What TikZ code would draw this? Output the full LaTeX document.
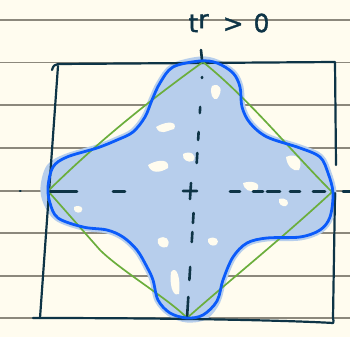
\documentclass[tikz,border=0pt]{standalone}
\usepackage{fontspec}
\setmainfont{DejaVu Sans}
\newfontfamily\handfont[FakeBold=1.2]{DejaVu Sans}
\begin{document}
\begin{tikzpicture}[x=1pt,y=-1pt,
  ink/.style={draw=inkc,line width=2.2pt,line cap=round,line join=round},
  paperline/.style={draw=rulec,line width=1.4pt},
  dashseg/.style={draw=inkc,line width=2.6pt,line cap=round},
  greenline/.style={draw=greenc,line width=1.7pt,line join=round},
  blueline/.style={draw=bluec,line width=2.8pt,line join=round},
  blobfill/.style={fill=fillc,draw=fillc,line width=7pt,line join=round},
  spot/.style={fill=paperc}]
\definecolor{paperc}{HTML}{FFFCEF}
\definecolor{rulec}{HTML}{8C887C}
\definecolor{inkc}{HTML}{0E3446}
\definecolor{greenc}{HTML}{6BAE3C}
\definecolor{bluec}{HTML}{0B5BFA}
\definecolor{fillc}{HTML}{B7CEEC}
\useasboundingbox (0,0) rectangle (350,337);
\fill[paperc] (0,0) rectangle (350,337);
% ruled paper
\foreach \yy in {20,62.5,105,148,191,233,276,318}
  \draw[paperline] (0,\yy) -- (350,\yy);
% shaded region
\path[blobfill] plot[smooth cycle,tension=0.55] coordinates {
 (200,60) (173,67) (160,83) (152,100) (145,117) (133,132) (117,140) (97,148)
 (67,157) (50,167) (44,187) (47,203) (58,218) (83,227) (107,230) (123,237)
 (137,250) (147,267) (153,280) (158,300) (170,313) (187,319) (205,316)
 (217,301) (223,280) (233,257) (247,243) (267,238) (300,237) (320,230)
 (330,217) (333,193) (328,173) (320,157) (300,148) (267,137) (250,123)
 (242,107) (240,87) (233,73) (217,63)};
% white gaps in the shading
\fill[spot] (212,86) .. controls (220,82) and (224,90) .. (217,99) .. controls (213,101) and (209,93) .. (212,86);
\fill[spot] (156,127) .. controls (168,120) and (178,122) .. (174,129) .. controls (166,131) and (160,136) .. (156,127);
\fill[spot] (148,165) .. controls (160,158) and (170,160) .. (168,168) .. controls (160,173) and (151,174) .. (148,165);
\fill[spot] (183,154) .. controls (190,150) and (198,155) .. (193,161) .. controls (188,163) and (182,160) .. (183,154);
\fill[spot] (286,157) .. controls (296,152) and (304,160) .. (299,170) .. controls (293,172) and (287,166) .. (286,157);
\fill[spot] (243,183) .. controls (252,180) and (262,183) .. (257,190) .. controls (250,193) and (244,190) .. (243,183);
\fill[spot] (74,207) .. controls (80,204) and (85,208) .. (81,212) .. controls (77,214) and (73,211) .. (74,207);
\fill[spot] (158,239) .. controls (165,234) and (172,240) .. (167,247) .. controls (162,249) and (156,245) .. (158,239);
\fill[spot] (171,272) .. controls (177,264) and (181,280) .. (179,294) .. controls (175,297) and (169,290) .. (171,272);
\fill[spot] (208,239) .. controls (215,235) and (221,240) .. (216,245) .. controls (212,247) and (207,244) .. (208,239);
\fill[spot] (279,199) .. controls (286,197) and (291,202) .. (286,206) .. controls (282,207) and (278,204) .. (279,199);
% frame
\coordinate (tl) at (58,64);
\coordinate (tr) at (335,62);
\coordinate (bl) at (33,318);
\coordinate (br) at (333,323);
\draw[ink] (52,70) .. controls (53,66) and (55,64) .. (tl) -- (tr) -- (336,165);
\draw[ink] (335,193) -- (333,318) .. controls (334,322) and (333,323) .. (br);
\draw[ink] (br) .. controls (300,321) and (200,318) .. (bl);
\draw[ink] (58,66) -- (40,318);
% green diamond
\coordinate (gl) at (48,191);
\coordinate (gt) at (203,62);
\coordinate (gr) at (332,192);
\coordinate (gb) at (187,318);
\draw[greenline] (gl) .. controls (100,140) and (150,100) .. (gt)
  .. controls (250,100) and (290,150) .. (gr)
  .. controls (280,240) and (230,280) .. (gb)
  .. controls (170,300) and (120,270) .. (100,250) -- cycle;
% dashed axes
\coordinate (hl) at (20,191);
\coordinate (hr) at (350,192);
\coordinate (vt) at (201,50);
\coordinate (vb) at (187,318);
\draw[dashseg] (hl) -- (20.5,191);
\foreach \a/\b in {50/77,113/125,230/240,253/263,267/280,290/300,313/325,343/352}
  \draw[dashseg] (\a,191.5) -- (\b,191.5);
\draw[dashseg] (vt) -- (202,60);
\foreach \a/\b in {77/78,107/113,132/140,153/163,213/223,232/242,267/280,297/318}
  \draw[dashseg] ({203-(\a-62)*16/256},\a) -- ({203-(\b-62)*16/256},\b);
\draw[ink,line width=2.6pt] (191,183) -- (190,199) (183,191) -- (197,191);
% blue boundary
\draw[blueline] plot[smooth cycle,tension=0.55] coordinates {
 (200,61) (173,67) (160,83) (152,100) (145,117) (133,132) (117,140) (97,148)
 (67,157) (53,167) (48,187) (50,203) (58,218) (83,227) (107,230) (123,237)
 (137,250) (147,267) (153,280) (158,300) (170,313) (187,318) (203,315)
 (217,301) (223,280) (233,257) (247,243) (267,238) (300,237) (320,230)
 (330,217) (333,193) (328,173) (320,157) (300,148) (267,137) (250,123)
 (242,107) (240,87) (233,73) (217,63)};
% label
\node[inkc,font=\handfont\fontsize{25}{25}\selectfont,inner sep=0pt] (lab) at (229,23)
  {t\raisebox{4pt}{r}\hspace{14pt}>\hspace{10pt}0};
\end{tikzpicture}
\end{document}
